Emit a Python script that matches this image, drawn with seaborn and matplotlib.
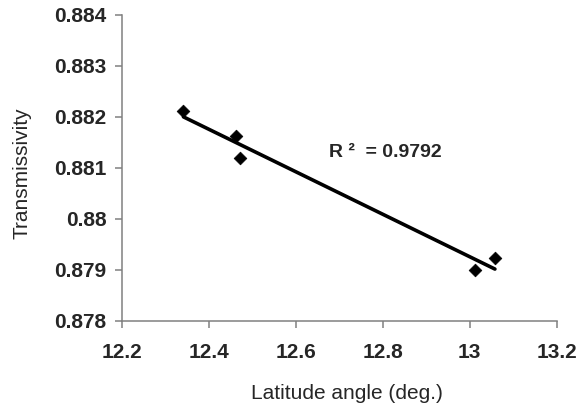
import matplotlib
matplotlib.use("Agg")
import matplotlib.pyplot as plt
import seaborn as sns
import pandas as pd

# Observed stations: latitude (deg.) and atmospheric transmissivity
latitude = [12.342, 12.463, 12.472, 13.012, 13.058]
transmissivity = [0.88212, 0.88163, 0.88120, 0.87900, 0.87924]
r2_label = "R \u00b2  = 0.9792"

x_ticks = [12.2, 12.4, 12.6, 12.8, 13.0, 13.2]
x_tick_labels = ["12.2", "12.4", "12.6", "12.8", "13", "13.2"]
y_ticks = [0.878, 0.879, 0.880, 0.881, 0.882, 0.883, 0.884]
y_tick_labels = ["0.878", "0.879", "0.88", "0.881", "0.882", "0.883", "0.884"]

df = pd.DataFrame({"lat": latitude, "tau": transmissivity})

sns.set_style("ticks")
plt.rcParams["font.family"] = ["Liberation Sans", "DejaVu Sans"]

fig = plt.figure(figsize=(5.8, 4.12), dpi=100)
ax = fig.add_axes([0.2098, 0.2209, 0.75, 0.7427])

# Linear trend line over the data range
sns.regplot(data=df, x="lat", y="tau", ax=ax, scatter=False, ci=None,
            truncate=True, color="black", line_kws={"linewidth": 2.6})
sns.scatterplot(data=df, x="lat", y="tau", ax=ax, marker="D", s=42,
                color="black", edgecolor="black", linewidth=0.5, zorder=3)

ax.set_xlim(12.2, 13.2)
ax.set_ylim(0.878, 0.884)
ax.set_xticks(x_ticks)
ax.set_xticklabels(x_tick_labels)
ax.set_yticks(y_ticks)
ax.set_yticklabels(y_tick_labels)

for lab in ax.get_xticklabels() + ax.get_yticklabels():
    lab.set_fontweight("bold")
    lab.set_fontsize(15)

gray = "#808080"
for side in ("top", "right"):
    ax.spines[side].set_visible(False)
for side in ("left", "bottom"):
    ax.spines[side].set_color(gray)
    ax.spines[side].set_linewidth(1.1)
ax.tick_params(axis="both", direction="out", length=5, width=1.1, color=gray)
ax.tick_params(axis="x", pad=11)
ax.tick_params(axis="y", pad=6)

ax.set_xlabel("Latitude angle (deg.)", fontsize=15)
ax.set_ylabel("Transmissivity", fontsize=15)
ax.xaxis.set_label_coords(0.518, -0.205)
ax.yaxis.set_label_coords(-0.208, 0.484)

ax.text(12.677, 0.881222, r2_label, fontsize=14, fontweight="bold",
        ha="left", va="baseline")

fig.savefig("out.png", dpi=100)
